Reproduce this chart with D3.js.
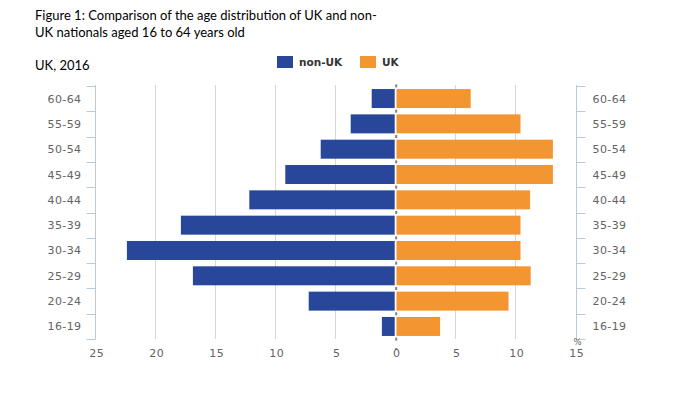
<!DOCTYPE html>
<html>
<head>
<meta charset="utf-8">
<script src="https://cdn.jsdelivr.net/npm/d3@7"></script>
<style>
  body { margin: 0; background: #fff; }
  .title { font-family: Lato, "Open Sans", sans-serif; font-size: 13px; fill: #000; }
  .tick-label { font-family: "DejaVu Sans", Verdana, sans-serif; font-size: 11px; fill: #636363; letter-spacing: 0.4px; }
  .legend-label { font-family: "DejaVu Sans", Verdana, sans-serif; font-size: 10.5px; font-weight: bold; fill: #333; }
</style>
</head>
<body>
<div id="chart"></div>
<script>
// chart data
const ageGroups = ["60-64", "55-59", "50-54", "45-49", "40-44", "35-39", "30-34", "25-29", "20-24", "16-19"];
const nonUK = [2.0, 3.75, 6.25, 9.2, 12.2, 17.9, 22.4, 16.9, 7.25, 1.15];
const uk = [6.25, 10.4, 13.1, 13.1, 11.2, 10.4, 10.4, 11.25, 9.4, 3.7];
const xTicks = [-25, -20, -15, -10, -5, 0, 5, 10, 15];
const seriesNames = ["non-UK", "UK"];

const WIDTH = 687;
const HEIGHT = 397;
const BLUE = "#28479a";
const ORANGE = "#f39632";
const AXIS = "#b9c9dc";
const GRID = "#d6d6d6";

const svg = d3.select("#chart").append("svg")
    .attr("width", WIDTH)
    .attr("height", HEIGHT);

const x = d3.scaleLinear().domain([-25, 15]).range([95.7, 575.7]);
const y = d3.scaleBand().domain(ageGroups).range([85.5, 339.5])
    .paddingInner(0.25).paddingOuter(0.14);

// title
svg.append("text").attr("class", "title").attr("x", 35).attr("y", 20)
    .text("Figure 1: Comparison of the age distribution of UK and non-");
svg.append("text").attr("class", "title").attr("x", 35).attr("y", 37)
    .text("UK nationals aged 16 to 64 years old");
svg.append("text").attr("class", "title").attr("x", 35).attr("y", 70)
    .text("UK, 2016");

// legend
const legend = svg.append("g");
[[277, BLUE], [360, ORANGE]].forEach((d, i) => {
    legend.append("rect").attr("x", d[0]).attr("y", 56).attr("width", 16).attr("height", 12)
        .attr("fill", d[1]);
    legend.append("text").attr("class", "legend-label").attr("x", d[0] + 22).attr("y", 66)
        .text(seriesNames[i]);
});

// vertical grid lines
svg.append("g").selectAll("line")
    .data(xTicks.filter(d => d !== 0 && d !== -25 && d !== 15))
    .enter().append("line")
    .attr("x1", d => Math.round(x(d)) - 0.5)
    .attr("x2", d => Math.round(x(d)) - 0.5)
    .attr("y1", 85)
    .attr("y2", 339)
    .attr("stroke", GRID)
    .attr("stroke-width", 1);

// bars
const rows = ageGroups.map((g, i) => ({ group: g, nonUK: nonUK[i], uk: uk[i] }));

svg.append("g").selectAll("rect")
    .data(rows)
    .enter().append("rect")
    .attr("x", d => x(-d.nonUK))
    .attr("y", d => y(d.group))
    .attr("width", d => x(0) - x(-d.nonUK) - 1)
    .attr("height", y.bandwidth())
    .attr("fill", BLUE);

svg.append("g").selectAll("rect")
    .data(rows)
    .enter().append("rect")
    .attr("x", x(0) + 0.8)
    .attr("y", d => y(d.group))
    .attr("width", d => x(d.uk) - x(0) - 0.8)
    .attr("height", y.bandwidth())
    .attr("fill", ORANGE);

// small zero markers at category boundaries
const bounds = ageGroups.map(g => y(g) - y.step() * y.paddingInner() / 2);
bounds.push(y(ageGroups[ageGroups.length - 1]) + y.bandwidth() + y.step() * y.paddingInner() / 2);
svg.append("g").selectAll("rect")
    .data(bounds)
    .enter().append("rect")
    .attr("x", x(0) - 0.5)
    .attr("y", d => d - 1.5)
    .attr("width", 2)
    .attr("height", 3)
    .attr("fill", "#808080");
svg.append("rect").attr("x", x(0) - 0.5).attr("y", 348).attr("width", 2).attr("height", 2)
    .attr("fill", "#808080");

// left and right category axes
const leftAxis = svg.append("g").attr("transform", `translate(${Math.round(x(-25)) - 0.5},0)`);
leftAxis.append("line").attr("y1", 85).attr("y2", 339.5).attr("stroke", AXIS);
leftAxis.selectAll(".tk").data(bounds).enter().append("line")
    .attr("x1", -9).attr("x2", 0)
    .attr("y1", d => Math.round(d) + 0.5).attr("y2", d => Math.round(d) + 0.5)
    .attr("stroke", AXIS);
leftAxis.selectAll("text").data(ageGroups).enter().append("text")
    .attr("class", "tick-label")
    .attr("x", -14)
    .attr("y", d => y(d) + y.bandwidth() / 2 + 4)
    .attr("text-anchor", "end")
    .text(d => d);

const rightAxis = svg.append("g").attr("transform", `translate(${Math.round(x(15)) + 0.5},0)`);
rightAxis.append("line").attr("y1", 85).attr("y2", 339.5).attr("stroke", AXIS);
rightAxis.selectAll(".tk").data(bounds).enter().append("line")
    .attr("x1", 0).attr("x2", 9)
    .attr("y1", d => Math.round(d) + 0.5).attr("y2", d => Math.round(d) + 0.5)
    .attr("stroke", AXIS);
rightAxis.selectAll("text").data(ageGroups).enter().append("text")
    .attr("class", "tick-label")
    .attr("x", 16)
    .attr("y", d => y(d) + y.bandwidth() / 2 + 4)
    .attr("text-anchor", "start")
    .text(d => d);

// bottom value labels
svg.append("g").selectAll("text")
    .data(xTicks)
    .enter().append("text")
    .attr("class", "tick-label")
    .attr("x", d => x(d) + 1)
    .attr("y", 357)
    .attr("text-anchor", "middle")
    .text(d => Math.abs(d));

svg.append("text").attr("class", "tick-label")
    .attr("x", x(15) + 2).attr("y", 345)
    .attr("text-anchor", "middle")
    .style("font-size", "8.5px")
    .text("%");
</script>
</body>
</html>
